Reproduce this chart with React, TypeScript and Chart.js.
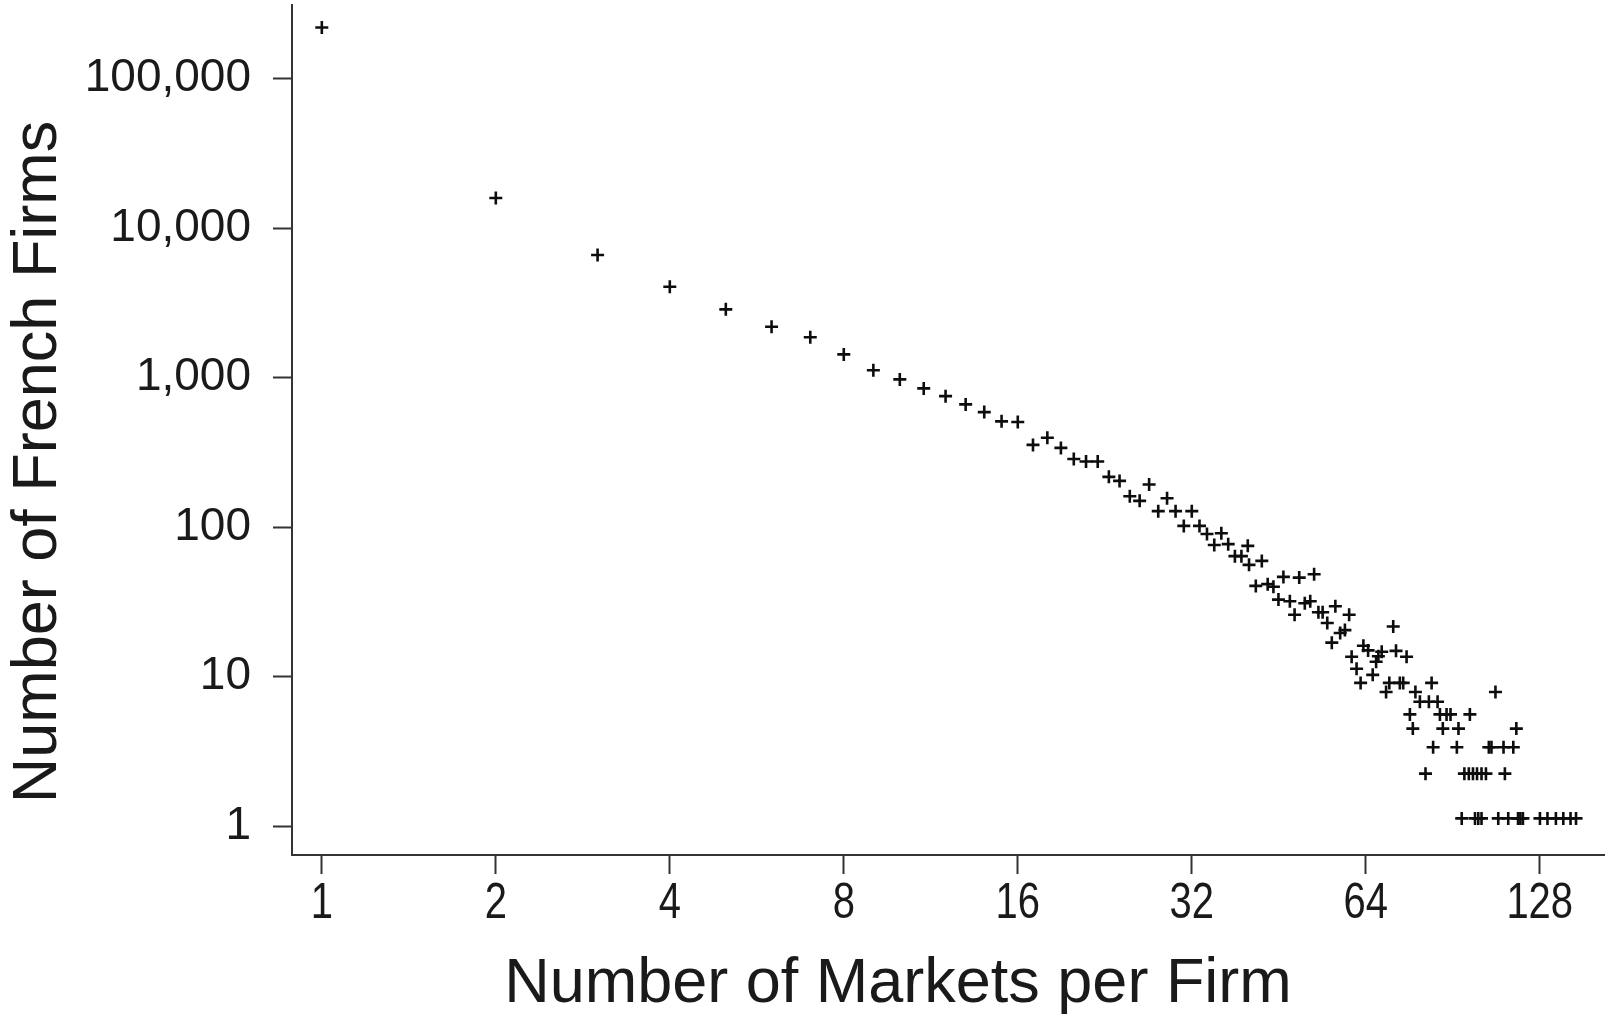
import React, { useEffect, useRef } from 'react';
import { Chart, registerables } from 'chart.js';

Chart.register(...registerables);

// Number of markets per firm (x) and number of French firms (y)
const marketCounts = [
  1, 2, 3, 4, 5, 6, 7, 8, 9, 10,
  11, 12, 13, 14, 15, 16, 17, 18, 19, 20,
  21, 22, 23, 24, 25, 26, 27, 28, 29, 30,
  31, 32, 33, 34, 35, 36, 37, 38, 39, 40,
  40.2, 41.3, 42.3, 43.3, 44.3, 45.2, 46.1, 47.3, 48.2, 49.1,
  50.2, 51.3, 52.1, 53.0, 53.9, 54.9, 55.9, 56.7, 57.8, 58.9,
  59.9, 60.5, 61.7, 62.7, 63.4, 64.6, 65.8, 66.7, 67.3, 68.2,
  69.4, 70.3, 71.4, 72.2, 73.3, 74.3, 75.3, 76.3, 77.2, 78.0,
  79.4, 81.2, 82.3, 83.2, 83.7, 85.2, 86.0, 87.0, 88.3, 89.7,
  92.0, 92.6, 93.8, 94.8, 96.5, 96.9, 98.1, 98.9, 99.7, 100.2,
  101.5, 101.5, 103.3, 104.5, 105.6, 107.3, 108.5, 110.8, 111.4, 112.9,
  115.2, 116.6, 117.4, 118.5, 119.7, 128.1, 132.0, 136.5, 140.6, 144.7,
  147.9,
];

const firmCounts = [
  219000, 15900, 6600, 4050, 2860, 2190, 1860, 1430, 1120, 973,
  847, 752, 662, 588, 510, 505, 355, 396, 339, 286,
  275, 275, 217, 204, 161, 150, 193, 128, 156, 128,
  102, 128, 102, 90, 76, 91, 77, 64, 64, 75,
  56, 40.5, 59.5, 41.6, 40, 32.8, 46.5, 32, 26, 46,
  31, 32, 48.5, 27, 27, 22.9, 16.9, 29.6, 19.6, 20.5,
  26, 13.6, 11.3, 9.1, 16.1, 15.0, 10.3, 12.6, 13.7, 14.7,
  7.9, 9.1, 21.7, 14.9, 9.1, 9.1, 13.6, 5.6, 4.5, 7.9,
  6.8, 2.25, 6.8, 9.1, 3.38, 6.8, 5.6, 4.5, 5.6, 5.6,
  3.38, 4.5, 1.13, 2.25, 2.25, 5.6, 2.25, 1.13, 2.25, 1.13,
  2.25, 1.13, 2.25, 3.38, 3.38, 7.9, 1.13, 3.38, 2.25, 1.13,
  3.38, 4.5, 1.13, 1.13, 1.13, 1.13, 1.13, 1.13, 1.13, 1.13,
  1.13,
];

const xTickValues = [1, 2, 4, 8, 16, 32, 64, 128];
const xTickLabels = ['1', '2', '4', '8', '16', '32', '64', '128'];
const yTickValues = [1, 10, 100, 1000, 10000, 100000];
const yTickLabels = ['1', '10', '100', '1,000', '10,000', '100,000'];

const xTitle = 'Number of Markets per Firm';
const yTitle = 'Number of French Firms';

const FONT = '"Liberation Sans", Arial, Helvetica, sans-serif';
const INK = '#1a1a1a';
const AXIS = '#333333';

// Axis titles and the (condensed) x tick labels, placed with the chart's own x scale
const axisTextPlugin = {
  id: 'axisTextPlugin',
  afterDraw(chart: any) {
    const ctx = chart.ctx as CanvasRenderingContext2D;
    const xs = chart.scales.x;
    ctx.save();
    ctx.fillStyle = INK;
    ctx.textAlign = 'center';
    ctx.textBaseline = 'alphabetic';

    ctx.font = `50px ${FONT}`;
    xTickValues.forEach((v, i) => {
      const px = xs.getPixelForValue(v);
      ctx.save();
      ctx.translate(px, 918);
      ctx.scale(0.8, 1);
      ctx.fillText(xTickLabels[i], 0, 0);
      ctx.restore();
    });

    ctx.font = `63px ${FONT}`;
    ctx.fillText(xTitle, 898, 1002);
    ctx.translate(56, 462);
    ctx.rotate(-Math.PI / 2);
    ctx.fillText(yTitle, 0, 0);
    ctx.restore();
  },
};

export default function App() {
  const canvasRef = useRef<HTMLCanvasElement | null>(null);

  useEffect(() => {
    if (!canvasRef.current) return;
    const points = marketCounts.map((x, i) => ({ x, y: firmCounts[i] }));
    const chart = new Chart(canvasRef.current, {
      type: 'scatter',
      data: {
        datasets: [
          {
            label: 'Firms',
            data: points,
            pointStyle: 'cross',
            pointRadius: 6.5,
            pointBorderWidth: 2.6,
            borderColor: '#0d0d0d',
            backgroundColor: '#0d0d0d',
          },
        ],
      },
      options: {
        responsive: false,
        animation: false,
        events: [],
        layout: { autoPadding: false, padding: { top: 5, left: 0, right: 0, bottom: 0 } },
        plugins: {
          legend: { display: false },
          tooltip: { enabled: false },
          title: { display: false },
        },
        scales: {
          x: {
            type: 'logarithmic',
            position: 'bottom',
            min: 0.888,
            max: 166,
            bounds: 'data',
            afterBuildTicks: (s: any) => {
              s.ticks = xTickValues.map((v) => ({ value: v }));
            },
            afterFit: (s: any) => {
              s.height = 159;
              s.paddingLeft = 0;
              s.paddingRight = 0;
            },
            ticks: {
              display: false,
              autoSkip: false,
              maxRotation: 0,
              minRotation: 0,
              callback: (_v: any, i: number) => xTickLabels[i],
            },
            grid: {
              display: true,
              drawOnChartArea: false,
              drawTicks: true,
              tickLength: 19,
              tickWidth: 2,
              tickColor: AXIS,
            },
            border: { display: true, color: AXIS, width: 2 },
          },
          y: {
            type: 'logarithmic',
            position: 'left',
            min: 0.643,
            max: 310000,
            bounds: 'data',
            afterBuildTicks: (s: any) => {
              s.ticks = yTickValues.map((v) => ({ value: v }));
            },
            afterFit: (s: any) => {
              s.width = 292;
              s.paddingTop = 0;
              s.paddingBottom = 0;
            },
            ticks: {
              autoSkip: false,
              padding: 22,
              color: INK,
              font: { family: FONT, size: 46 },
              callback: (_v: any, i: number) => yTickLabels[i],
            },
            grid: {
              display: true,
              drawOnChartArea: false,
              drawTicks: true,
              tickLength: 19,
              tickWidth: 2,
              tickColor: AXIS,
            },
            border: { display: true, color: AXIS, width: 2 },
          },
        },
      },
      plugins: [axisTextPlugin],
    } as any);
    return () => chart.destroy();
  }, []);

  return (
    <div style={{ position: 'absolute', left: 0, top: 0, width: 1605, height: 1014, background: '#ffffff' }}>
      <canvas ref={canvasRef} width={1605} height={1014} style={{ display: 'block' }} />
    </div>
  );
}
